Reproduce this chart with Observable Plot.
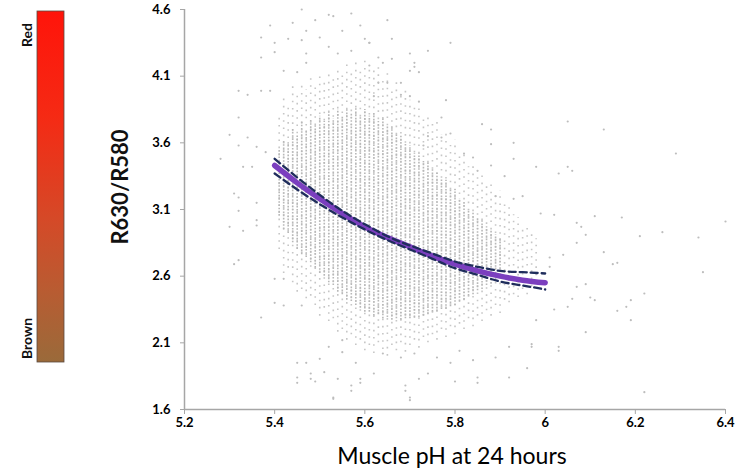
<!DOCTYPE html>
<html><head><meta charset="utf-8">
<script src="https://cdn.jsdelivr.net/npm/d3@7"></script>
<script src="https://cdn.jsdelivr.net/npm/@observablehq/plot@0.6"></script>
<style>body{margin:0;background:#fff} #chart svg{display:block}</style>
</head><body><div id="chart"></div>
<script>
// ---- axis ticks ----
const xTicks = [5.2, 5.4, 5.6, 5.8, 6.0, 6.2, 6.4];
const xTickLabels = ["5.2", "5.4", "5.6", "5.8", "6", "6.2", "6.4"];
const yTicks = [1.6, 2.1, 2.6, 3.1, 3.6, 4.1, 4.6];
const xTitle = "Muscle pH at 24 hours";
const yTitle = "R630/R580";
const legendTop = "Red";
const legendBottom = "Brown";

// ---- fitted curve with confidence band ----
const fitPH    = [5.40, 5.45, 5.50, 5.55, 5.60, 5.65, 5.70, 5.75, 5.80, 5.85, 5.90, 5.95, 6.00];
const fitR     = [3.43, 3.30, 3.18, 3.07, 2.97, 2.89, 2.82, 2.75, 2.69, 2.64, 2.60, 2.57, 2.55];
const upperR   = [3.48, 3.34, 3.21, 3.09, 2.99, 2.90, 2.83, 2.77, 2.71, 2.67, 2.64, 2.63, 2.62];
const lowerR   = [3.37, 3.25, 3.14, 3.04, 2.95, 2.87, 2.80, 2.73, 2.66, 2.61, 2.56, 2.53, 2.50];

// ---- dense point columns (pH measured in 0.01 steps): outer extent and dense core ----
const colPH  = [5.41,5.42,5.43,5.44,5.45,5.46,5.47,5.48,5.49,5.50,5.51,5.52,5.53,5.54,5.55,5.56,5.57,5.58,5.59,5.60,
                5.61,5.62,5.63,5.64,5.65,5.66,5.67,5.68,5.69,5.70,5.71,5.72,5.73,5.74,5.75,5.76,5.77,5.78,5.79,5.80,
                5.81,5.82,5.83,5.84,5.85,5.86,5.87,5.88,5.89,5.90,5.91,5.92,5.93,5.94,5.95,5.96,5.97,5.98];
const colLo  = [2.80,2.62,2.66,2.55,2.48,2.50,2.43,2.45,2.38,2.30,2.36,2.26,2.28,2.18,2.20,2.12,2.16,2.08,2.12,2.04,
                2.08,2.02,2.10,2.05,2.00,2.08,2.04,2.10,2.03,2.08,2.12,2.06,2.14,2.10,2.16,2.12,2.20,2.14,2.22,2.16,
                2.24,2.20,2.28,2.22,2.30,2.26,2.34,2.30,2.38,2.32,2.42,2.40,2.46,2.44,2.50,2.46,2.52,2.55];
const colHi  = [3.80,3.95,3.90,4.02,3.98,4.06,4.00,4.08,4.04,4.12,4.06,4.14,4.10,4.16,4.12,4.20,4.15,4.22,4.16,4.24,
                4.18,4.14,4.20,4.08,4.12,4.02,4.08,3.98,4.00,3.92,3.88,3.90,3.80,3.82,3.74,3.76,3.66,3.70,3.58,3.62,
                3.50,3.54,3.42,3.46,3.36,3.38,3.28,3.30,3.22,3.24,3.14,3.12,3.06,3.04,2.98,3.00,2.92,2.88];
const coreLo = [3.05,2.95,2.92,2.85,2.80,2.76,2.74,2.70,2.66,2.62,2.60,2.55,2.53,2.48,2.46,2.42,2.41,2.38,2.36,2.33,
                2.33,2.30,2.31,2.28,2.29,2.27,2.28,2.27,2.28,2.28,2.29,2.29,2.30,2.31,2.33,2.33,2.35,2.35,2.37,2.38,
                2.41,2.42,2.45,2.46,2.49,2.50,2.53,2.54,2.57,2.58,null,null,null,null,null,null,null,null];
const coreHi = [3.55,3.62,3.60,3.70,3.66,3.76,3.70,3.78,3.74,3.80,3.76,3.83,3.78,3.85,3.80,3.86,3.82,3.86,3.80,3.85,
                3.80,3.82,3.76,3.78,3.72,3.72,3.66,3.66,3.60,3.58,3.52,3.52,3.46,3.45,3.40,3.38,3.33,3.32,3.26,3.25,
                3.18,3.16,3.10,3.08,3.04,3.02,2.97,2.95,2.91,2.88,null,null,null,null,null,null,null,null];

// ---- scattered individual points outside the dense body [pH, R630/R580] ----
const outliers = [
 [5.46,4.60],[5.39,4.48],[5.44,4.50],[5.47,4.44],[5.49,4.52],[5.52,4.56],[5.53,4.55],[5.57,4.57],[5.59,4.48],[5.55,4.44],
 [5.65,4.52],[5.37,4.39],[5.40,4.35],[5.43,4.38],[5.46,4.37],[5.50,4.39],[5.52,4.32],[5.57,4.29],[5.61,4.35],[5.66,4.38],
 [5.37,4.24],[5.40,4.28],[5.47,4.27],[5.54,4.27],[5.63,4.24],[5.70,4.27],[5.74,4.29],[5.32,3.99],[5.34,3.96],[5.37,3.99],
 [5.39,3.99],[5.42,4.14],[5.45,4.13],[5.30,3.66],[5.32,3.79],[5.28,3.48],[5.78,3.92],[5.77,3.79],[5.71,4.17],
 [5.79,4.35],[5.86,3.74],[5.88,3.70],[6.05,3.76],[6.13,3.70],[6.29,3.52],[5.93,3.60],[5.93,3.48],[5.98,3.42],[6.05,3.42],
 [6.06,3.39],[6.03,3.37],[5.91,3.35],[5.82,3.52],[5.84,3.49],[5.88,3.59],[5.88,3.43],[5.85,3.39],[5.95,3.20],[5.93,3.18],[5.89,3.20],
 [6.40,3.01],[6.34,2.89],[6.35,2.63],[6.26,2.93],[6.21,2.90],[6.17,3.04],[6.11,3.05],[6.07,3.00],[6.08,2.97],[6.09,2.91],
 [6.07,2.85],[6.04,2.76],[6.02,3.06],[5.99,3.07],[6.13,2.78],[6.15,2.69],[6.16,2.70],[6.07,2.52],[6.09,2.54],[6.10,2.44],
 [6.11,2.42],[6.06,2.43],[6.05,2.37],[6.16,2.34],[6.18,2.37],[6.19,2.42],[6.22,2.47],[6.19,2.27],[6.09,2.18],[6.03,2.07],
 [6.03,2.04],[6.22,1.73],[5.98,2.27],[6.02,2.35],[6.01,2.74],[6.01,2.67],[5.97,2.09],
 [5.53,1.69],[5.69,1.78],[5.70,1.69],[5.57,1.78],[5.59,1.83],[5.80,1.81],[5.85,1.84],[5.45,1.84],[5.48,1.87],
 [5.30,2.97],[5.32,3.09],[5.33,2.94],[5.36,3.02],[5.36,2.98],[5.32,2.72],[5.31,2.69],[5.37,2.29],[5.40,2.58],[5.42,2.58],
 [5.40,2.40],[5.42,2.38],[5.46,2.38],[5.45,1.95],[5.47,1.95],[5.48,1.83],[5.49,1.81],[5.45,1.80],[5.53,1.68],[5.51,1.88],
 [5.50,1.98],[5.54,1.83],[5.57,1.74],[5.59,1.80],[5.52,2.07],[5.55,2.03],[5.55,2.12],[5.58,1.95],
 [5.69,1.74],[5.70,1.67],[5.74,1.87],[5.72,1.83],[5.79,1.95],[5.85,1.80],[5.92,1.84],[5.96,1.91],[5.71,2.02],[5.68,1.99],
 [5.64,2.02],[5.76,1.99],[5.81,2.04],[5.84,1.97],[5.89,1.99],[5.92,2.07],[5.97,2.07],[5.62,1.87],
 [5.60,4.38],[5.61,4.35],[5.66,4.23],[5.61,4.18],[5.64,4.20],[5.71,4.20],[5.70,4.14],[5.72,4.13],[5.63,4.05],[5.65,4.05],
 [5.68,4.05],[5.62,3.95],[5.68,3.96],[5.70,3.95],[5.72,3.91],[5.79,3.67],[5.77,3.64],[5.74,3.65],[5.73,3.58],
 [5.47,4.20],[5.34,3.64],[5.32,3.58],[5.36,3.57],[5.38,3.53],[5.33,3.42],[5.35,3.42],[5.31,3.22],[5.32,3.19],[5.36,3.15]
];

// ---- tables built from the arrays ----
const columns = colPH.map((ph, i) => ({ph, lo: colLo[i], hi: colHi[i], cLo: coreLo[i], cHi: coreHi[i]}));
const fit = fitPH.map((ph, i) => ({ph, fit: fitR[i], upper: upperR[i], lower: lowerR[i]}));

const W = 737, H = 473;
const chart = Plot.plot({
  width: W, height: H,
  marginLeft: 184, marginRight: 12, marginTop: 9, marginBottom: 64,
  x: {domain: [5.2, 6.4]},
  y: {domain: [1.6, 4.6]},
  style: {fontFamily: "Lato, 'Open Sans', sans-serif", fontSize: "13px", fontWeight: "bold", color: "#000", background: "#fff"},
  marks: [
    Plot.ruleX(columns, {x: "ph", y1: "lo", y2: "hi", stroke: "#c6c6c6", strokeWidth: 1.6, strokeDasharray: "1.6,5.6"}),
    Plot.ruleX(columns.filter(d => d.cLo != null), {x: "ph", y1: "cLo", y2: "cHi", stroke: "#b8b8b8", strokeWidth: 1.6, strokeDasharray: "1.6,1.6"}),
    Plot.dot(outliers, {x: d => d[0], y: d => d[1], r: 1.1, fill: "#bdbdbd", stroke: null}),
    Plot.line(fit, {x: "ph", y: "fit", stroke: "#7b3fbf", strokeWidth: 5.5, curve: "natural"}),
    Plot.line(fit, {x: "ph", y: "upper", stroke: "#1f2d5c", strokeWidth: 2.3, strokeDasharray: "7,4", curve: "natural"}),
    Plot.line(fit, {x: "ph", y: "lower", stroke: "#1f2d5c", strokeWidth: 2.3, strokeDasharray: "7,4", curve: "natural"}),
    Plot.ruleX([5.2], {stroke: "#a6a6a6", strokeWidth: 1.5}),
    Plot.ruleY([1.6], {stroke: "#a6a6a6", strokeWidth: 1.5}),
    Plot.axisX({ticks: xTicks, tickFormat: d => xTickLabels[xTicks.indexOf(d)], tickSize: 5, tickPadding: 3, stroke: "#a6a6a6", fill: "#000", label: null}),
    Plot.axisY({ticks: yTicks, tickFormat: d => d.toFixed(1), tickSize: 4, tickPadding: 10, stroke: "#a6a6a6", fill: "#000", label: null})
  ]
});

const svg = d3.select(chart);
// colour legend bar
const defs = svg.append("defs");
const grad = defs.append("linearGradient").attr("id", "rb").attr("x1", 0).attr("y1", 0).attr("x2", 0).attr("y2", 1);
[[0, "#ff140a"], [0.3, "#f52a14"], [0.6, "#d44a28"], [0.8, "#b85c32"], [1, "#9a6a3a"]].forEach(([o, c]) =>
  grad.append("stop").attr("offset", o).attr("stop-color", c));
svg.append("rect").attr("x", 37).attr("y", 11).attr("width", 27).attr("height", 351)
  .attr("fill", "url(#rb)").attr("stroke", "#5a4a40").attr("stroke-width", 0.8);
svg.append("text").attr("transform", "translate(32,47) rotate(-90)")
  .attr("text-anchor", "start").style("font", "bold 14px Lato, sans-serif").attr("fill", "#111").text(legendTop);
svg.append("text").attr("transform", "translate(32,359) rotate(-90)")
  .attr("text-anchor", "start").style("font", "bold 14px Lato, sans-serif").attr("fill", "#111").text(legendBottom);
// axis titles
svg.append("text").attr("transform", "translate(128,187) rotate(-90)")
  .attr("text-anchor", "middle").style("font", "bold 22px Lato, sans-serif").attr("fill", "#111").text(yTitle);
svg.append("text").attr("x", 452).attr("y", 464)
  .attr("text-anchor", "middle").style("font", "23px Lato, sans-serif").attr("fill", "#000").text(xTitle);

document.getElementById("chart").append(chart);
</script>
</body></html>
